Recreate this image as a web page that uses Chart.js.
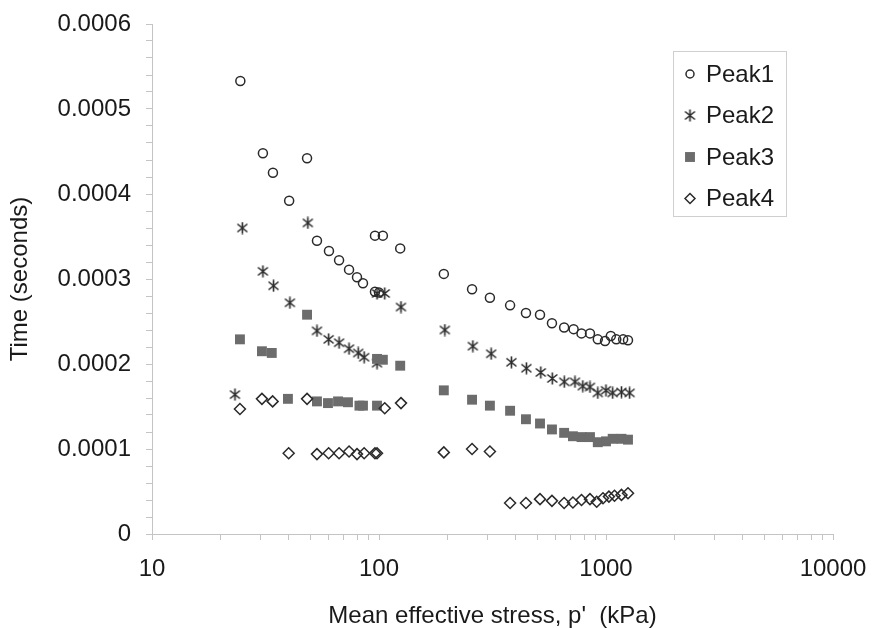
<!DOCTYPE html>
<html>
<head>
<meta charset="utf-8">
<script src="https://cdn.jsdelivr.net/npm/chart.js@4"></script>
<style>
  body { margin: 0; background: #fff; }
</style>
</head>
<body>
<canvas id="chart" width="878" height="628"></canvas>
<script>
// Mean effective stress (kPa) and time (s) for each peak
const peak1X = [24.5, 30.8, 34.1, 40.2, 48.2, 53.3, 60.2, 66.7, 73.8, 80, 85, 96, 100, 96, 104, 124, 193, 257, 308, 378, 444, 512, 578, 654, 720, 780, 850, 920, 990, 1050, 1110, 1190, 1250];
const peak1Y = [0.000533, 0.000448, 0.000425, 0.000392, 0.000442, 0.000345, 0.000333, 0.000322, 0.000311, 0.000302, 0.000295, 0.000285, 0.000284, 0.000351, 0.000351, 0.000336, 0.000306, 0.000288, 0.000278, 0.000269, 0.00026, 0.000258, 0.000248, 0.000243, 0.000241, 0.000236, 0.000236, 0.000229, 0.000227, 0.000233, 0.000229, 0.000229, 0.000228];

const peak2X = [23.2, 25, 30.8, 34.3, 40.5, 48.6, 53.3, 60, 66.7, 73.8, 81, 86, 98, 98, 106, 125, 195, 259, 312, 383, 446, 516, 580, 655, 730, 790, 850, 920, 1000, 1070, 1170, 1270];
const peak2Y = [0.000164, 0.00036, 0.000309, 0.000292, 0.000272, 0.000366, 0.000239, 0.000229, 0.000225, 0.000218, 0.000213, 0.000208, 0.000201, 0.000283, 0.000283, 0.000267, 0.00024, 0.000221, 0.000212, 0.000202, 0.000195, 0.00019, 0.000183, 0.000179, 0.000179, 0.000174, 0.000173, 0.000166, 0.000169, 0.000166, 0.000167, 0.000166];

const peak3X = [24.4, 30.5, 33.7, 39.7, 48.2, 53.3, 59.6, 66, 73, 82, 85, 98, 98, 104, 124, 193, 257, 308, 378, 444, 512, 578, 654, 715, 780, 850, 920, 1000, 1070, 1170, 1250];
const peak3Y = [0.000229, 0.000215, 0.000213, 0.000159, 0.000258, 0.000156, 0.000154, 0.000156, 0.000155, 0.000151, 0.000151, 0.000151, 0.000206, 0.000205, 0.000198, 0.000169, 0.000158, 0.000151, 0.000145, 0.000135, 0.00013, 0.000123, 0.000119, 0.000115, 0.000114, 0.000114, 0.000108, 0.000109, 0.000112, 0.000112, 0.000111];

const peak4X = [24.4, 30.5, 34, 40, 48.2, 53.3, 60, 66.7, 73.8, 80, 86, 96, 98, 106, 125, 193, 257, 308, 378, 444, 512, 578, 654, 715, 780, 850, 910, 970, 1030, 1090, 1170, 1250];
const peak4Y = [0.000147, 0.000159, 0.000156, 0.000095, 0.000159, 0.000094, 0.000095, 0.000095, 0.000097, 0.000094, 0.000095, 0.000095, 0.000095, 0.000148, 0.000154, 0.000096, 0.0001, 0.000097, 0.0000365, 0.0000365, 0.000041, 0.000039, 0.0000365, 0.000037, 0.00004, 0.000041, 0.000038, 0.000042, 0.000044, 0.000045, 0.000046, 0.000048];

const seriesNames = ['Peak1', 'Peak2', 'Peak3', 'Peak4'];
const xDecades = [10, 100, 1000, 10000];
const yMajorStep = 0.0001;
const yMinorStep = 0.00002;

const FONT = '"Liberation Sans", Arial, sans-serif';
const INK = '#1a1a1a';
const AXIS = '#c4c4c4';

function toPoints(xs, ys) {
    return xs.map((x, i) => ({ x: x, y: ys[i] }));
}

// Excel-like asterisk marker: X with a vertical bar
function makeStar(size, color) {
    const c = document.createElement('canvas');
    c.width = size; c.height = size;
    const g = c.getContext('2d');
    g.strokeStyle = color;
    g.lineWidth = 1.6;
    const m = size / 2;
    g.beginPath();
    g.moveTo(m, 0.5); g.lineTo(m, size - 0.5);
    g.moveTo(1.5, 2.5); g.lineTo(size - 1.5, size - 2.5);
    g.moveTo(size - 1.5, 2.5); g.lineTo(1.5, size - 2.5);
    g.stroke();
    return c;
}
const starMark = makeStar(13, '#2a2a2a');

// legend drawn inside the plot like the original
const boxLegend = {
    id: 'boxLegend',
    afterDraw(chart) {
        const ctx = chart.ctx;
        ctx.save();
        ctx.fillStyle = '#fff';
        ctx.fillRect(673, 51, 113, 165);
        ctx.strokeStyle = '#cfcfcf';
        ctx.lineWidth = 1;
        ctx.strokeRect(673.5, 51.5, 113, 165);
        chart.data.datasets.forEach((ds, i) => {
            const y = 74 + i * 41.5;
            ctx.fillStyle = ds.backgroundColor;
            ctx.strokeStyle = ds.borderColor;
            ctx.lineWidth = ds.borderWidth;
            Chart.helpers.drawPoint(ctx, {
                pointStyle: ds.pointStyle,
                radius: ds.legendRadius,
                borderWidth: ds.borderWidth,
                rotation: 0
            }, 690, y);
            ctx.fillStyle = INK;
            ctx.font = '24px ' + FONT;
            ctx.textBaseline = 'middle';
            ctx.textAlign = 'left';
            ctx.fillText(ds.label, 706, y + 1);
        });
        ctx.restore();
    }
};

new Chart(document.getElementById('chart'), {
    type: 'scatter',
    data: {
        datasets: [{
            label: seriesNames[0],
            data: toPoints(peak1X, peak1Y),
            pointStyle: 'circle',
            radius: 4.5,
            legendRadius: 4,
            borderWidth: 1.5,
            borderColor: '#2a2a2a',
            backgroundColor: 'rgba(0,0,0,0)',
            order: 4
        }, {
            label: seriesNames[1],
            data: toPoints(peak2X, peak2Y),
            pointStyle: starMark,
            radius: 6,
            legendRadius: 6,
            borderWidth: 1.5,
            borderColor: '#2a2a2a',
            backgroundColor: '#2a2a2a',
            order: 3
        }, {
            label: seriesNames[2],
            data: toPoints(peak3X, peak3Y),
            pointStyle: 'rect',
            radius: 7,
            legendRadius: 7,
            borderWidth: 0,
            borderColor: '#6c6c6c',
            backgroundColor: '#6c6c6c',
            order: 2
        }, {
            label: seriesNames[3],
            data: toPoints(peak4X, peak4Y),
            pointStyle: 'rectRot',
            radius: 5.5,
            legendRadius: 5,
            borderWidth: 1.5,
            borderColor: '#2a2a2a',
            backgroundColor: 'rgba(0,0,0,0)',
            order: 1
        }]
    },
    options: {
        responsive: false,
        devicePixelRatio: 1,
        animation: false,
        layout: { padding: { top: 24, right: 45, left: 0, bottom: 0 } },
        plugins: {
            legend: { display: false },
            tooltip: { enabled: false }
        },
        scales: {
            x: {
                type: 'logarithmic',
                min: 10,
                max: 10000,
                afterFit(scale) {
                    scale.height = 94;
                    scale.paddingLeft = 0;
                    scale.paddingRight = 0;
                },
                afterBuildTicks(scale) {
                    const ticks = [];
                    xDecades.forEach((d, i) => {
                        if (i === xDecades.length - 1) { ticks.push({ value: d }); return; }
                        for (let m = 1; m < 10; m++) ticks.push({ value: d * m });
                    });
                    scale.ticks = ticks;
                },
                ticks: {
                    autoSkip: false,
                    maxRotation: 0,
                    padding: 15,
                    color: INK,
                    font: { family: FONT, size: 24 },
                    callback(value) {
                        return xDecades.includes(value) ? String(value) : '';
                    }
                },
                grid: { drawOnChartArea: false, tickLength: 6, color: AXIS },
                border: { color: AXIS },
                title: {
                    display: true,
                    text: "Mean effective stress, p'  (kPa)",
                    color: INK,
                    font: { family: FONT, size: 24, lineHeight: 1 },
                    padding: { top: 0, bottom: 0 }
                }
            },
            y: {
                min: 0,
                max: 0.0006,
                afterFit(scale) {
                    scale.width = 152;
                    scale.paddingTop = 0;
                    scale.paddingBottom = 0;
                },
                ticks: {
                    stepSize: yMinorStep,
                    autoSkip: false,
                    padding: 15,
                    color: INK,
                    font: { family: FONT, size: 24 },
                    callback(value) {
                        const n = Math.round(value / yMinorStep);
                        if (n % Math.round(yMajorStep / yMinorStep) !== 0) return '';
                        return n === 0 ? '0' : value.toFixed(4);
                    }
                },
                grid: { drawOnChartArea: false, tickLength: 6, color: AXIS },
                border: { color: AXIS },
                title: {
                    display: true,
                    text: 'Time (seconds)',
                    color: INK,
                    font: { family: FONT, size: 24 },
                    padding: { top: 6, bottom: 0 }
                }
            }
        }
    },
    plugins: [boxLegend]
});
</script>
</body>
</html>
